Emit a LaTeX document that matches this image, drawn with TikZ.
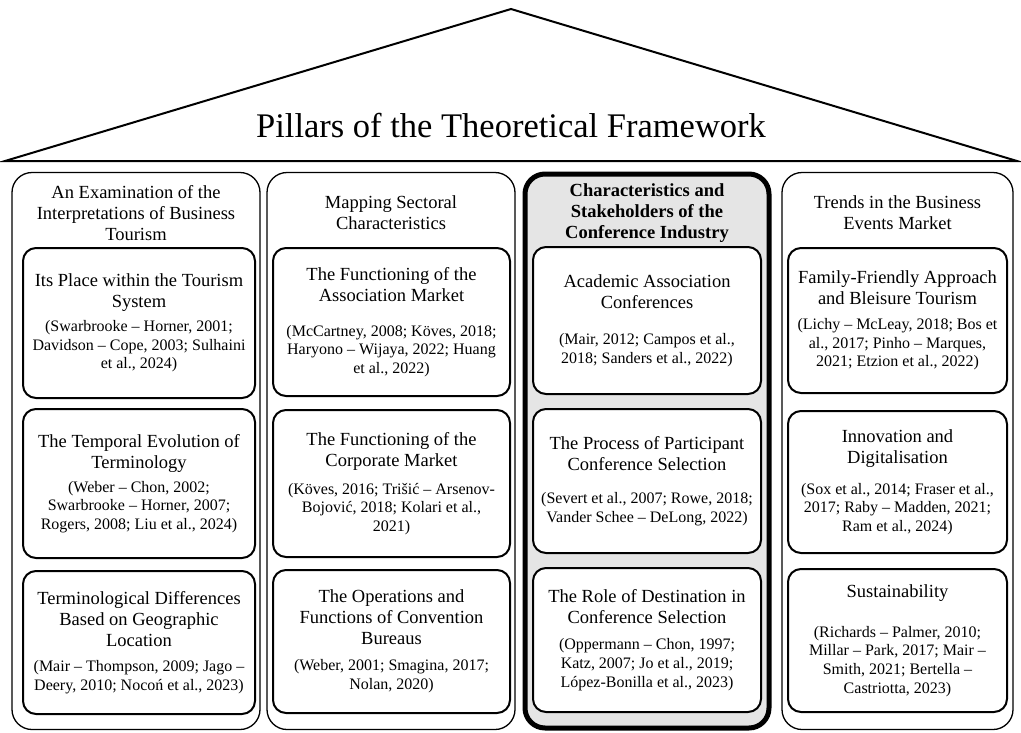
\documentclass[tikz,border=0pt]{standalone}
\usepackage{fontspec}
\setmainfont{Liberation Serif}

\newcommand{\boxtitle}{\fontsize{18.5}{21}\selectfont}
\newcommand{\boxcite}{\fontsize{16}{18.7}\selectfont}
% title, gap, references
\newcommand{\topictext}[3]{{\boxtitle #1\par}\vspace{#2}{\boxcite #3\par}}

\begin{document}
\begin{tikzpicture}[x=1pt,y=-1pt,
    pillar/.style={draw,line width=1.3pt,rounded corners=20pt,minimum height=557pt,inner sep=0pt},
    topic/.style={draw,line width=2pt,rounded corners=13pt,fill=white,align=flush center,inner sep=2pt},
    head/.style={align=flush center,text width=236pt,inner sep=0pt,font=\boxtitle}]
    \useasboundingbox (0,0) rectangle (1021,732);

    % Roof
    \coordinate (L) at (5,161);
    \coordinate (T) at (511,9);
    \coordinate (R) at (1017,161);
    \draw[line width=2pt] (L) -- (T) -- (R) -- cycle;
    \node[anchor=base] (roof) at (511,137) {\fontsize{34.5}{40}\selectfont Pillars of the Theoretical Framework};

    % Pillars
    \node[pillar,minimum width=248pt] (p1) at (136,451) {};
    \node[pillar,minimum width=248pt] (p2) at (391,451) {};
    \node[pillar,line width=5pt,fill=black!10,minimum width=244pt,minimum height=554pt] (p3) at (647,451) {};
    \node[pillar,minimum width=231pt] (p4) at (897.5,451) {};

    % Pillar headings
    \node[head] (h1) at (136,213) {An Examination of the\\Interpretations of Business\\Tourism};
    \node[head] (h2) at (391,213) {Mapping Sectoral\\Characteristics};
    \node[head,font=\boxtitle\bfseries] (h3) at (647,213) {Characteristics and\\Stakeholders of the\\Conference Industry};
    \node[head] (h4) at (897.5,213) {Trends in the Business\\Events Market};

    % Column 1
    \node[topic,text width=228pt,minimum height=150pt] (a1) at (139,323) {\topictext{Its Place within the Tourism\\System}{5.3pt}{(Swarbrooke -- Horner, 2001;\\Davidson -- Cope, 2003; Sulhaini\\et al., 2024)}};
    \node[topic,text width=228pt,minimum height=149pt] (a2) at (139,483.5) {\topictext{The Temporal Evolution of\\Terminology}{5.3pt}{(Weber -- Chon, 2002;\\Swarbrooke -- Horner, 2007;\\Rogers, 2008; Liu et al., 2024)}};
    \node[topic,text width=228pt,minimum height=143pt] (a3) at (139,642.5) {\topictext{Terminological Differences\\Based on Geographic\\Location}{6.3pt}{(Mair -- Thompson, 2009; Jago --\\Deery, 2010; Nocoń et al., 2023)}};

    % Column 2
    \node[topic,text width=233pt,minimum height=148pt] (b1) at (391.5,322) {\topictext{The Functioning of the\\Association Market}{16.3pt}{(McCartney, 2008; Köves, 2018;\\Haryono -- Wijaya, 2022; Huang\\et al., 2022)}};
    \node[topic,text width=233pt,minimum height=147pt] (b2) at (391.5,483.5) {\topictext{The Functioning of the\\Corporate Market}{9.3pt}{(Köves, 2016; Trišić -- Arsenov-\\Bojović, 2018; Kolari et al.,\\2021)}};
    \node[topic,text width=233pt,minimum height=143pt] (b3) at (391.5,641.5) {\topictext{The Operations and\\Functions of Convention\\Bureaus}{7.3pt}{(Weber, 2001; Smagina, 2017;\\Nolan, 2020)}};

    % Column 3
    \node[topic,text width=224pt,minimum height=147pt] (c1) at (647,320.5) {\topictext{Academic Association\\Conferences}{17.3pt}{(Mair, 2012; Campos et al.,\\2018; Sanders et al., 2022)}};
    \node[topic,text width=224pt,minimum height=144pt] (c2) at (647,481) {\topictext{The Process of Participant\\Conference Selection}{14.3pt}{(Severt et al., 2007; Rowe, 2018;\\Vander Schee -- DeLong, 2022)}};
    \node[topic,text width=224pt,minimum height=144pt] (c3) at (647,640) {\topictext{The Role of Destination in\\Conference Selection}{7.3pt}{(Oppermann -- Chon, 1997;\\Katz, 2007; Jo et al., 2019;\\López-Bonilla et al., 2023)}};

    % Column 4
    \node[topic,text width=215pt,minimum height=145pt] (d1) at (897.5,320.5) {\topictext{Family-Friendly Approach\\and Bleisure Tourism}{6.3pt}{(Lichy -- McLeay, 2018; Bos et\\al., 2017; Pinho -- Marques,\\2021; Etzion et al., 2022)}};
    \node[topic,text width=215pt,minimum height=142pt] (d2) at (897.5,482) {\topictext{Innovation and\\Digitalisation}{12.3pt}{(Sox et al., 2014; Fraser et al.,\\2017; Raby -- Madden, 2021;\\Ram et al., 2024)}};
    \node[topic,text width=215pt,minimum height=143pt] (d3) at (897.5,640.5) {\topictext{Sustainability}{21.3pt}{(Richards -- Palmer, 2010;\\Millar -- Park, 2017; Mair --\\Smith, 2021; Bertella --\\Castriotta, 2023)}};
\end{tikzpicture}
\end{document}
